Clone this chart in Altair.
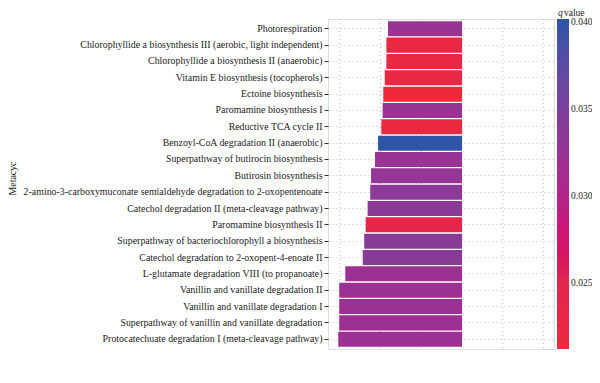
import altair as alt
import pandas as pd

pathways = [
    "Photorespiration",
    "Chlorophyllide a biosynthesis III (aerobic, light independent)",
    "Chlorophyllide a biosynthesis II (anaerobic)",
    "Vitamin E biosynthesis (tocopherols)",
    "Ectoine biosynthesis",
    "Paromamine biosynthesis I",
    "Reductive TCA cycle II",
    "Benzoyl-CoA degradation II (anaerobic)",
    "Superpathway of butirocin biosynthesis",
    "Butirosin biosynthesis",
    "2-amino-3-carboxymuconate semialdehyde degradation to 2-oxopentenoate",
    "Catechol degradation II (meta-cleavage pathway)",
    "Paromamine biosynthesis II",
    "Superpathway of bacteriochlorophyll a biosynthesis",
    "Catechol degradation to 2-oxopent-4-enoate II",
    "L-glutamate degradation VIII (to propanoate)",
    "Vanillin and vanillate degradation II",
    "Vanillin and vanillate degradation I",
    "Superpathway of vanillin and vanillate degradation",
    "Protocatechuate degradation I (meta-cleavage pathway)",
]
log2fc = [-4.54, -4.64, -4.64, -4.74, -4.83, -4.87, -4.95, -5.15, -5.34, -5.58,
          -5.63, -5.79, -5.91, -6.00, -6.09, -7.16, -7.53, -7.53, -7.53, -7.59]
qvalue = [0.0325, 0.0222, 0.0222, 0.0222, 0.0213, 0.0325, 0.0220, 0.0400, 0.0325, 0.0330,
          0.0336, 0.0335, 0.0236, 0.0340, 0.0340, 0.0320, 0.0320, 0.0320, 0.0320, 0.0320]

grid_x = [-7.5, -5, -2.5, 0, 2.5, 5]
x_ticks = [-5, 0, 5]
legend_ticks = [0.025, 0.030, 0.035, 0.040]
color_stops = [0.0212, 0.025, 0.030, 0.035, 0.0402]
color_range = ["#EC2A3B", "#E2264F", "#B22489", "#7B3F99", "#2B55A6"]

FONT = "Liberation Serif"
FS = 10.2
YFS = 9.9
LFS = 9.5

df = pd.DataFrame({"pathway": pathways, "lfc": log2fc, "q": qvalue})
grid_df = pd.DataFrame({"gx": grid_x})
title_df = pd.DataFrame({"t": ["q"]})

xscale = alt.Scale(domain=[-8.22, 5.64], nice=False, zero=False)

grid = alt.Chart(grid_df).mark_rule(
    color="#bdbdbd", strokeDash=[1, 3], strokeWidth=1
).encode(x=alt.X("gx:Q", scale=xscale, axis=None))

bars = alt.Chart(df).mark_bar().encode(
    y=alt.Y(
        "pathway:N",
        sort=pathways,
        scale=alt.Scale(paddingInner=0.08, paddingOuter=0.14),
        axis=alt.Axis(
            title="Metacyc",
            grid=True,
            gridColor="#bdbdbd",
            gridDash=[1, 3],
            bandPosition=0.5,
            domain=False,
            tickSize=4,
            tickColor="#333333",
            labelPadding=2,
            labelLimit=400,
            labelFont=FONT,
            labelFontSize=YFS,
            labelColor="#1a1a1a",
            titleFont=FONT,
            titleFontSize=YFS,
            titleFontWeight="normal",
            titleColor="#1a1a1a",
            titleX=-315.5,
            titleY=159,
            titleAlign="center",
            titleBaseline="middle",
        ),
    ),
    x=alt.X(
        "lfc:Q",
        scale=xscale,
        axis=alt.Axis(
            title="log2FoldChange",
            values=x_ticks,
            grid=False,
            domain=False,
            tickSize=3,
            tickColor="#333333",
            labelPadding=3,
            labelFont=FONT,
            labelFontSize=FS,
            labelColor="#1a1a1a",
            titleFont=FONT,
            titleFontSize=FS,
            titleFontWeight="normal",
            titleColor="#1a1a1a",
            titlePadding=5,
        ),
    ),
    color=alt.Color(
        "q:Q",
        scale=alt.Scale(domain=color_stops, range=color_range),
        legend=alt.Legend(
            title=None,
            values=legend_ticks,
            format=".3f",
            gradientLength=330,
            gradientThickness=12,
            gradientStrokeWidth=0,
            offset=3,
            labelOffset=2,
            labelFont=FONT,
            labelFontSize=LFS,
            labelColor="#1a1a1a",
        ),
    ),
)

q_text = alt.Chart(title_df).mark_text(
    text="q", font=FONT, fontSize=LFS, fontStyle="italic", align="left",
    baseline="alphabetic", color="#1a1a1a"
).encode(x=alt.value(230), y=alt.value(-3.5))

v_text = alt.Chart(title_df).mark_text(
    text="value", font=FONT, fontSize=LFS, align="left",
    baseline="alphabetic", color="#1a1a1a"
).encode(x=alt.value(236), y=alt.value(-3.5))

chart = alt.layer(grid, bars, q_text, v_text).properties(
    width=226,
    height=330,
    autosize=alt.AutoSizeParams(type="none"),
    padding={"left": 320, "top": 11, "right": 38, "bottom": 20},
).configure_view(stroke="#444444", strokeWidth=1).configure(background="white")

chart.save("out.html", embed_options={"renderer": "svg", "actions": False})
